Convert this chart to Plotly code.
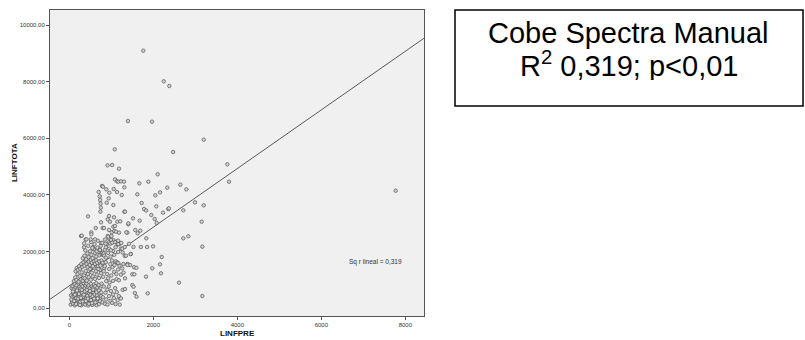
import plotly.graph_objects as go

# ---- data ----
dense = [
(35,120),(62,210),(88,145),(105,330),(130,95),(148,260),(172,180),(190,410),(215,130),(238,300),(260,215),(285,95),(302,380),(330,160),(352,270),(378,120),(401,340),(425,200),(448,90),(470,290),(495,170),(520,390),(545,110),(570,250),(598,150),(625,330),(650,95),(680,210),(710,140),(740,300),
(42,450),(70,380),(95,520),(118,430),(140,600),(165,350),(188,490),(212,560),(235,420),(258,630),(282,470),(305,540),(328,400),(355,610),(380,480),(405,560),(430,430),(455,650),(478,510),(503,460),(530,590),(556,420),(580,540),(607,480),(635,620),(662,450),(690,560),(720,500),(755,430),(800,380),
(55,700),(78,780),(102,660),(125,840),(150,720),(173,800),(196,680),(220,870),(243,750),(268,690),(290,820),(315,760),(338,880),(362,700),(388,790),(412,860),(437,720),(460,800),(486,690),(512,850),(538,760),(563,700),(590,830),(618,770),(645,880),(672,720),(700,810),(735,690),(770,860),(820,760),
(48,300),(85,580),(112,250),(135,470),(158,140),(183,620),(207,330),(230,500),(253,110),(276,360),(298,640),(322,230),(345,470),(370,590),(395,250),(418,640),(442,330),(466,150),(490,600),(515,280),(540,170),(565,650),(592,330),(620,200),(648,560),(676,340),(705,620),(730,240),(760,550),(790,200),
(850,150),(880,300),(910,120),(945,420),(980,250),(1020,180),(1060,350),(1100,140),(1150,280),(1200,120),(860,540),(900,650),(940,760),(990,600),(1040,480),(1090,700),(1130,560),(1180,420),(1230,340),(1270,640),
]
medium = [
(110,950),(140,1080),(170,990),(195,1200),(220,930),(248,1120),(272,1010),(296,1260),(320,960),(345,1150),(368,1050),(392,1310),(415,970),(440,1200),(463,1090),(488,1380),(512,1000),(535,1250),(560,1120),(585,1430),(610,1030),(633,1300),(658,1180),(683,1480),(708,1060),(732,1350),(757,1230),(782,1550),(806,1100),(832,1400),
(150,1300),(175,1410),(205,1350),(232,1480),(258,1390),(285,1560),(310,1450),(336,1620),(360,1500),(386,1680),(410,1560),(436,1450),(460,1640),(486,1520),(510,1700),(537,1600),(562,1480),(588,1650),(612,1560),(640,1690),(665,1600),(690,1380),(716,1650),(742,1500),(768,1680),(795,1600),(820,1300),(845,1480),(870,1620),(900,1200),
(925,1050),(950,1380),(975,1550),(1000,1150),(1030,1450),(1065,1280),(1095,1600),(1125,1020),(1160,1360),(1195,1500),(1230,1180),(1260,1400),(1290,1250),(880,950),(960,900),(1040,960),(1120,1200),(1180,980),(1015,1680),(1075,1520),
]
band = [
(320,1760),(360,1850),(400,1720),(430,1930),(460,1800),(495,2010),(525,1880),(555,1760),(585,2080),(612,1950),(640,1820),(668,2130),(695,1990),(720,1860),(748,2200),(775,1900),(790,1950),(805,1880),(818,1930),(830,1850),(845,2060),(870,1780),(895,2250),(920,1950),(950,2100),(980,1820),(1010,2300),(1040,2020),(1070,1880),(1100,2150),(1130,2350),(1160,1980),(1190,2260),(1230,2100),(1270,1960),(380,2040),(450,2200),(520,2330),(600,2260),(680,2380),(760,2300),(850,2420),(940,2320),(1050,2400),(1150,2250),(350,2150),(560,2150),(730,2050),(870,2150),(990,2040),
]
upper = [
(279,2547),(390,2429),(510,2429),(612,2429),(914,2547),(952,2452),(993,2405),(786,2300),(976,2280),(1088,2330),(1167,2260),(1236,2300),(1421,2270),
(524,2676),(524,2606),(945,2759),(1010,2676),(1071,2724),(1112,2700),(1183,2665),(1381,2665),
(629,2830),(795,2830),(826,2830),(1048,2877),(1088,2900),(1405,2960),(755,3030),(914,3136),(969,3054),(1143,3054),(1214,3066),
(445,3242),(945,3254),(1064,3207),(1310,3407),(890,3725),(938,3879),(1048,3643),
(725,3950),(735,3820),(745,3690),(750,3550),(740,3407),
(700,4103),(881,4197),(952,4079),(1057,4209),(1136,4103),(1248,3997),(1310,4268),(779,4316),(800,4290),
(1088,4550),(1136,4480),(1167,4470),(1231,4480),(1302,4470),
(910,5046),(1020,5058),(1184,4928),(1082,5612),
(298,2558),(408,2429),(353,2287),(549,2122),(651,2004),(729,2051),(863,2276),(925,2523),(1004,2547),(1020,2311),(1161,2382),(1263,2099),
]
right = [
(1396,6614),(1969,6591),(3200,5954),(2471,5518),(1762,9102),(2248,8019),(2381,7853),(3762,5083),(3802,4468),(7771,4150),
(2104,4730),(1667,4410),(1881,4468),(2643,4362),(2786,4197),(2333,4256),(1619,4020),(2048,3985),(2160,4091),
(1723,3714),(2071,3596),(1780,3500),(1830,3450),(2355,3500),(2370,3525),(2231,3372),(2714,3455),(2993,3737),(3200,3631),
(1952,3290),(1326,3407),(1517,3172),(1405,2995),(1676,3089),(2033,3148),(2081,3007),(1571,2759),(1690,2735),(1628,2641),(1357,2676),
(3152,3053),(1833,2465),(2714,2465),(2833,2536),(3167,2170),
(1321,2158),(1528,2158),(1702,2158),(1852,2158),(1994,2181),
(1321,1840),(1464,1910),(2200,1804),(1384,1560),(1448,1520),(1543,1440),(1598,1420),(2160,1545),(1976,1404),
(1326,1049),(1500,1192),(1548,1192),(1826,1107),(2183,1226),(1326,670),(1500,810),(1530,750),(1560,530),(1600,400),(1867,519),(2612,896),(3167,424),
(1286,1556),(1381,1521),(1350,1852),(1462,1910),(1104,1650),(1143,1610),(1167,1590),
]

fit_intercept = 785.0
fit_slope = 1.037
x_range = [-460, 8445]
y_range = [-283, 10541]
x_ticks = [0, 2000, 4000, 6000, 8000]
y_ticks = [0, 2000, 4000, 6000, 8000, 10000]
y_tick_labels = ["0,00", "2000,00", "4000,00", "6000,00", "8000,00", "10000,00"]

all_pts = dense + medium + band + upper + right
xs = [p[0] for p in all_pts]
ys = [p[1] for p in all_pts]

FONT = "Liberation Sans, Arial, sans-serif"

fig = go.Figure()
fig.add_trace(go.Scatter(
    x=x_range, y=[fit_intercept + fit_slope * v for v in x_range],
    mode="lines", line=dict(color="#5a5a5a", width=1), hoverinfo="skip"))
fig.add_trace(go.Scatter(
    x=xs, y=ys, mode="markers",
    marker=dict(size=3.5, color="#d0d0d0", line=dict(color="#555555", width=0.7))))

fig.update_layout(
    width=805, height=340,
    margin=dict(l=50, r=381, t=10, b=24),
    paper_bgcolor="white", plot_bgcolor="#f0f0f0",
    showlegend=False,
    font=dict(family=FONT, color="#222"),
)
fig.update_xaxes(
    range=x_range, tickvals=x_ticks, ticktext=[str(v) for v in x_ticks],
    showgrid=False, zeroline=False, showline=True, linecolor="#555", linewidth=1, mirror=True,
    ticks="outside", ticklen=3, tickcolor="#555", tickfont=dict(size=6, color="#333"),
    automargin=False, title=None,
)
fig.update_yaxes(
    range=y_range, tickvals=y_ticks, ticktext=y_tick_labels,
    showgrid=False, zeroline=False, showline=True, linecolor="#555", linewidth=1, mirror=True,
    ticks="outside", ticklen=3, tickcolor="#555", tickfont=dict(size=6, color="#333"),
    automargin=False, title=None,
)

# axis titles placed as annotations for exact placement
fig.add_annotation(x=0.5, y=-0.058, xref="paper", yref="paper", yanchor="middle",
                   xanchor="center", text="<b>LINFPRE</b>", showarrow=False,
                   font=dict(size=8, color="#111", family=FONT))
fig.add_annotation(x=-0.096, y=0.5, xref="paper", yref="paper", textangle=-90,
                   xanchor="center", yanchor="middle", text="<b>LINFTOTA</b>", showarrow=False,
                   font=dict(size=8, color="#111", family=FONT))

fig.add_annotation(x=0.869, y=0.1765, xref="paper", yref="paper",
                   text="Sq r lineal = 0,319", showarrow=False,
                   xanchor="center", yanchor="middle",
                   font=dict(size=6.5, color="#333", family=FONT))

fig.add_shape(type="rect", xref="paper", yref="paper",
              x0=1.0829, x1=2.0134, y0=0.6863, y1=1.0,
              line=dict(color="#000", width=1.5), fillcolor="white")
fig.add_annotation(x=1.548, y=0.925, xref="paper", yref="paper",
                   text="Cobe Spectra Manual", showarrow=False, height=32,
                   xanchor="center", yanchor="middle",
                   font=dict(size=29, color="#000", family=FONT))
fig.add_annotation(x=1.548, y=0.822, xref="paper", yref="paper",
                   text="R<sup>2</sup> 0,319; p<0,01", showarrow=False, height=32,
                   xanchor="center", yanchor="middle",
                   font=dict(size=29, color="#000", family=FONT))

fig.write_html("out.html")
